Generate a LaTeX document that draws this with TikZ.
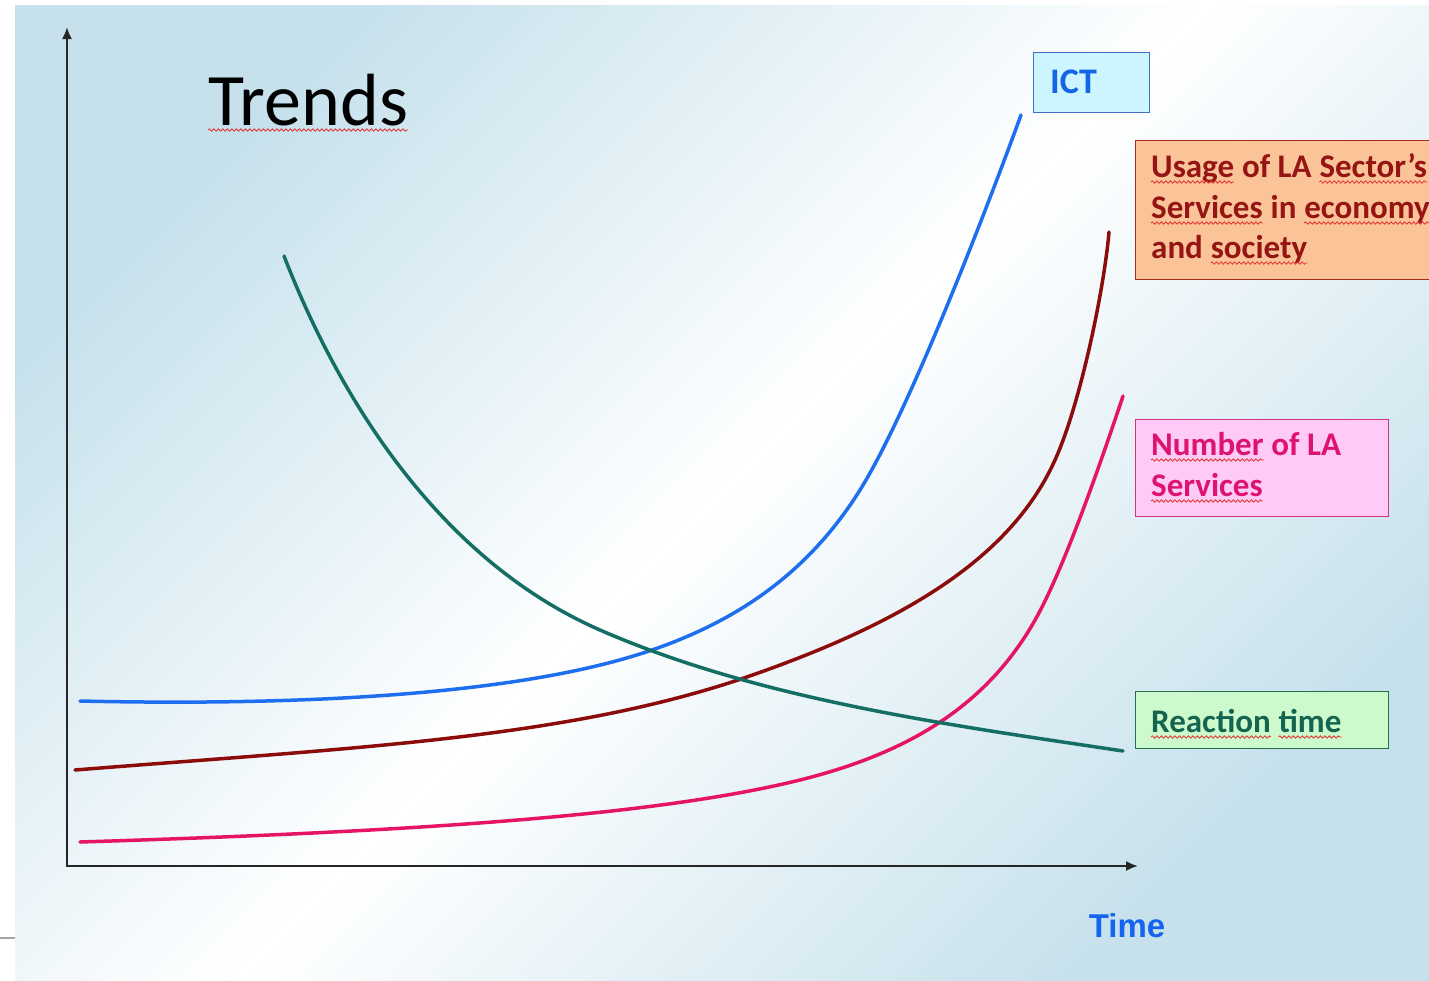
\documentclass[tikz,border=0pt]{standalone}
\usepackage{fontspec}
\setmainfont{Carlito}
\newfontfamily\arialfont{Liberation Sans}
\usetikzlibrary{arrows.meta,decorations.pathmorphing}
\definecolor{bgblue}{RGB}{198,225,236}
\definecolor{wavered}{RGB}{225,50,50}
\definecolor{ictblue}{RGB}{30,110,240}
\definecolor{usered}{RGB}{140,12,12}
\definecolor{numpink}{RGB}{230,20,100}
\definecolor{reteal}{RGB}{20,110,100}
\definecolor{ictfill}{RGB}{205,245,255}
\definecolor{ictborder}{RGB}{70,110,200}
\definecolor{ictText}{RGB}{20,100,230}
\definecolor{usefill}{RGB}{250,196,152}
\definecolor{useborder}{RGB}{160,45,30}
\definecolor{useText}{RGB}{150,20,20}
\definecolor{numfill}{RGB}{255,202,245}
\definecolor{numborder}{RGB}{210,50,130}
\definecolor{numText}{RGB}{220,20,110}
\definecolor{refill}{RGB}{205,250,205}
\definecolor{reborder}{RGB}{40,110,80}
\definecolor{reText}{RGB}{20,100,80}
\definecolor{timeblue}{RGB}{20,100,240}
\tikzset{
  axisline/.style={line width=2pt, black!85},
  curve/.style={line width=3.5pt, line cap=round},
  labelbox/.style={draw, line width=1.2pt, inner sep=0pt, anchor=north west},
  labeltext/.style={font=\bfseries\fontsize{33}{40.5}\selectfont, anchor=base west, inner sep=0pt},
  wavyline/.style={draw=wavered, line width=0.8pt, decorate, decoration={snake, amplitude=1.2pt, segment length=4.5pt}},
  wv/.style={append after command={([yshift=-5pt]\tikzlastnode.base west) edge[wavyline] ([yshift=-5pt]\tikzlastnode.base east)}}
}
\begin{document}
\begin{tikzpicture}[x=1pt,y=-1pt]
\useasboundingbox (0,0) rectangle (1429,980);
\clip (0,0) rectangle (1429,980);
\fill[white] (0,0) rectangle (1429,980);
\shade[top color=bgblue, bottom color=bgblue, middle color=white, shading angle=45] (15,5) rectangle (1429,980);
\draw[gray!70, line width=1.5pt] (0,938) -- (15,938);

% axes
\coordinate (ytop) at (67,27);
\coordinate (origin) at (67,866);
\coordinate (xend) at (1138,866);
\draw[axisline, {Latex[length=12pt,width=10pt]}-{Latex[length=12pt,width=10pt]}] (ytop) -- (origin) -- (xend);

% curves
\draw[curve, ictblue] (80,701) .. controls (300,706) and (516,695) .. (646,652)
  .. controls (740,621) and (810,570) .. (860,490)
  .. controls (910,410) and (990,200) .. (1021,115);
\draw[curve, usered] (75,770) .. controls (350,748) and (560,739) .. (738,680)
  .. controls (900,625) and (1010,560) .. (1055,460)
  .. controls (1080,405) and (1104,290) .. (1109,232);
\draw[curve, numpink] (80,842) .. controls (400,832) and (650,817) .. (800,780)
  .. controls (900,755) and (990,710) .. (1042,607)
  .. controls (1070,552) and (1105,450) .. (1123,396);
\draw[curve, reteal] (284,256) .. controls (340,400) and (440,560) .. (600,630)
  .. controls (760,700) and (950,725) .. (1123,751);

% title
\node[anchor=base west, inner sep=0pt, font=\fontsize{74}{80}\selectfont, wv] (title) at (208,125) {Trends};

% boxes
\node[labelbox, draw=ictborder, fill=ictfill, minimum width=116pt, minimum height=60pt] (ictbox) at (1033,52) {};
\node[labeltext, text=ictText, font=\bfseries\fontsize{36}{40}\selectfont] (ict) at (1050,93) {ICT};

\node[labelbox, draw=useborder, fill=usefill, minimum width=330pt, minimum height=139pt] (usebox) at (1135,140) {};
\node[labeltext, text=useText, wv] (use1a) at (1151,177) {Usage};
\node[labeltext, text=useText] (use1b) at ([xshift=7.5pt]use1a.base east) {of LA};
\node[labeltext, text=useText, wv] (use1c) at ([xshift=7.5pt]use1b.base east) {Sector’s};
\node[labeltext, text=useText, wv] (use2a) at (1151,218) {Services};
\node[labeltext, text=useText] (use2b) at ([xshift=7.5pt]use2a.base east) {in};
\node[labeltext, text=useText, wv] (use2c) at ([xshift=7.5pt]use2b.base east) {economy};
\node[labeltext, text=useText] (use3a) at (1151,258) {and};
\node[labeltext, text=useText, wv] (use3b) at ([xshift=7.5pt]use3a.base east) {society};

\node[labelbox, draw=numborder, fill=numfill, minimum width=253pt, minimum height=97pt] (numbox) at (1135,419) {};
\node[labeltext, text=numText, wv] (num1a) at (1151,455) {Number};
\node[labeltext, text=numText] (num1b) at ([xshift=7.5pt]num1a.base east) {of LA};
\node[labeltext, text=numText, wv] (num2) at (1151,496) {Services};

\node[labelbox, draw=reborder, fill=refill, minimum width=253pt, minimum height=57pt] (rebox) at (1135,691) {};
\node[labeltext, text=reText, wv] (re1) at (1151,732) {Reaction};
\node[labeltext, text=reText, wv] (re2) at ([xshift=7.5pt]re1.base east) {time};

\node[anchor=base, inner sep=0pt, text=timeblue, font=\arialfont\bfseries\fontsize{33}{36}\selectfont] (time) at (1127,937) {Time};
\end{tikzpicture}
\end{document}
